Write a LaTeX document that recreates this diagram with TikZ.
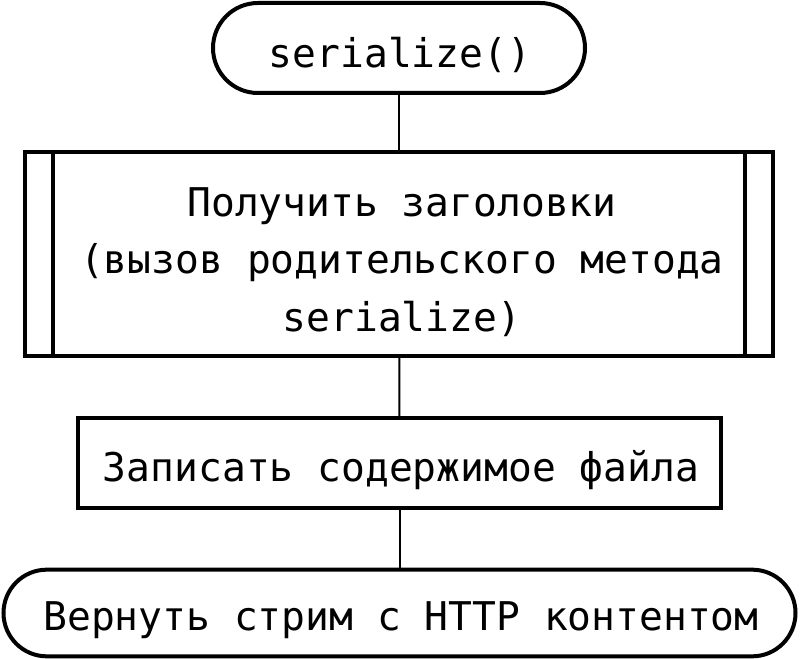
\documentclass[tikz,border=0pt]{standalone}
\usepackage{fontspec}
\newfontfamily\monofont{DejaVu Sans Mono}
\usetikzlibrary{shapes.misc}
\begin{document}
\begin{tikzpicture}[x=0.75pt,y=-0.75pt,
  base/.style={draw=black, line width=3pt, inner sep=0pt},
  term/.style={base, rounded rectangle},
  proc/.style={base, rectangle},
  txt/.style={font=\monofont\fontsize{29.7}{42.9}\selectfont, align=center, inner sep=0pt},
  conn/.style={draw=black, line width=1.5pt}]
\useasboundingbox (0,0) rectangle (800,659);
\node[term, minimum width=279pt, minimum height=67.5pt] (start) at (399,48) {};
\node[proc, minimum width=561pt, minimum height=153pt] (sub) at (399,254) {};
\draw[line width=3pt] ([xshift=22.5pt]sub.north west) -- ([xshift=22.5pt]sub.south west);
\draw[line width=3pt] ([xshift=-22.5pt]sub.north east) -- ([xshift=-22.5pt]sub.south east);
\node[proc, minimum width=482pt, minimum height=67.5pt] (write) at (399.5,463) {};
\node[term, minimum width=594pt, minimum height=65pt] (ret) at (399.5,613) {};
\node[txt] (startT) at (400,55) {serialize()};
\node[txt] (subT) at (402,262) {Получить заголовки\\(вызов родительского метода\\serialize)};
\node[txt] (writeT) at (401,470) {Записать содержимое файла};
\node[txt] (retT) at (401,620) {Вернуть стрим с HTTP контентом};
\draw[conn] (start) -- (sub);
\draw[conn] (sub) -- (write);
\draw[conn] (write) -- (ret);
\end{tikzpicture}
\end{document}
